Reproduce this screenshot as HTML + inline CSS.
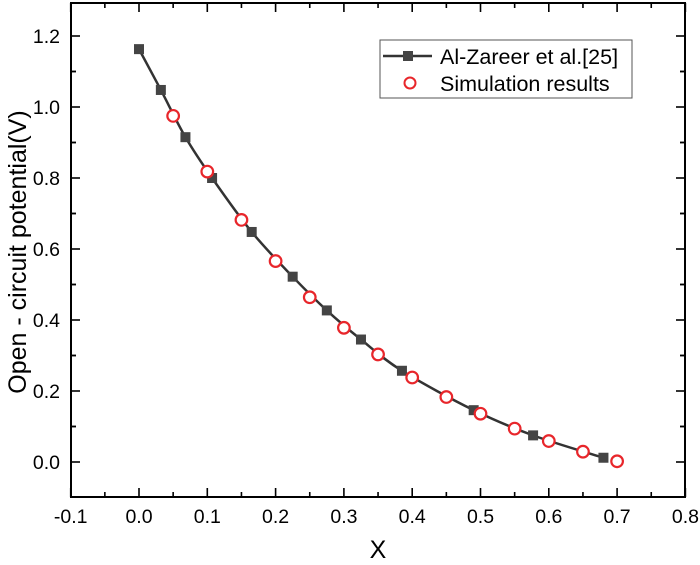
<!DOCTYPE html>
<html><head><meta charset="utf-8"><style>
body{margin:0;background:#fff}
svg{display:block;font-family:"Liberation Sans",Arial,sans-serif}
</style></head><body>
<svg id="c" width="700" height="565"></svg>
<script>
const refX=[0,0.032,0.068,0.107,0.165,0.225,0.275,0.325,0.385,0.49,0.577,0.68];
const refY=[1.163,1.048,0.915,0.800,0.648,0.522,0.427,0.345,0.257,0.146,0.075,0.012];
const simX=[0.05,0.1,0.15,0.2,0.25,0.3,0.35,0.4,0.45,0.5,0.55,0.6,0.65,0.7];
const simY=[0.975,0.818,0.682,0.566,0.464,0.378,0.303,0.238,0.183,0.136,0.094,0.059,0.029,0.002];
const xTicks=["-0.1","0.0","0.1","0.2","0.3","0.4","0.5","0.6","0.7","0.8"];
const yTicks=["0.0","0.2","0.4","0.6","0.8","1.0","1.2"];
const L=71,R=685,T=3,B=497;
const sx=v=>139+v*683;
const sy=v=>462-v*355;
const svg=document.getElementById('c');
const NS='http://www.w3.org/2000/svg';
function mk(t,a,p){const e=document.createElementNS(NS,t);for(const k in a)e.setAttribute(k,a[k]);(p||svg).appendChild(e);return e;}
let e=mk('rect',{x:L,y:T,width:R-L,height:B-T,fill:'none',stroke:'#000','stroke-width':2});

for(let i=0;i<xTicks.length;i++){const v=parseFloat(xTicks[i]);const x=sx(v);
 mk('line',{x1:x,x2:x,y1:B,y2:B-9,stroke:'#000','stroke-width':1.6});
 mk('line',{x1:x,x2:x,y1:T,y2:T+9,stroke:'#000','stroke-width':1.6});
 if(i<xTicks.length-1){const xm=sx(v+0.05);mk('line',{x1:xm,x2:xm,y1:B,y2:B-5,stroke:'#000','stroke-width':1.6});mk('line',{x1:xm,x2:xm,y1:T,y2:T+5,stroke:'#000','stroke-width':1.6});}
 const t=mk('text',{x:x,y:B+26,'text-anchor':'middle','font-size':19.5});t.textContent=xTicks[i];
 }
for(let i=0;i<yTicks.length;i++){const v=parseFloat(yTicks[i]);const y=sy(v);
 mk('line',{x1:L,x2:L+9,y1:y,y2:y,stroke:'#000','stroke-width':1.6});
 mk('line',{x1:R,x2:R-9,y1:y,y2:y,stroke:'#000','stroke-width':1.6});
 [v-0.1,v+0.1].forEach(m=>{const ym=sy(m);if(ym>T&&ym<B){mk('line',{x1:L,x2:L+5,y1:ym,y2:ym,stroke:'#000','stroke-width':1.6});mk('line',{x1:R,x2:R-5,y1:ym,y2:ym,stroke:'#000','stroke-width':1.6});}});
 const t=mk('text',{x:L-11,y:y+7,'text-anchor':'end','font-size':19.5});t.textContent=yTicks[i];
 }
let t=mk('text',{x:378,y:558,'text-anchor':'middle','font-size':25});t.textContent='X';

t=mk('text',{x:0,y:0,'text-anchor':'middle','font-size':25,transform:'translate(26,252) rotate(-90)'});t.textContent='Open - circuit potential(V)';

const P=refX.map((x,i)=>[sx(x),sy(refY[i])]);
let d='M'+P[0][0]+','+P[0][1];
for(let i=0;i<P.length-1;i++){const p0=P[Math.max(i-1,0)],p1=P[i],p2=P[i+1],p3=P[Math.min(i+2,P.length-1)];
 d+=' C'+(p1[0]+(p2[0]-p0[0])/6)+','+(p1[1]+(p2[1]-p0[1])/6)+' '+(p2[0]-(p3[0]-p1[0])/6)+','+(p2[1]-(p3[1]-p1[1])/6)+' '+p2[0]+','+p2[1];}
e=mk('path',{d:d,fill:'none',stroke:'#333','stroke-width':2.5});

P.forEach(p=>{const r=mk('rect',{x:p[0]-5,y:p[1]-5,width:10,height:10,fill:'#444'});
 });
simX.forEach((x,i)=>{const c=mk('circle',{cx:sx(x),cy:sy(simY[i]),r:5.8,fill:'#fff',stroke:'#e8262b','stroke-width':2.2});
 });
const g=mk('g',{});
mk('rect',{x:380,y:40,width:252,height:58,fill:'#fff',stroke:'#555','stroke-width':1},g);
mk('line',{x1:383,x2:432,y1:56,y2:56,stroke:'#333','stroke-width':2.5},g);
mk('rect',{x:403,y:51,width:10,height:10,fill:'#444'},g);
t=mk('text',{x:440,y:64,'font-size':21.5},g);t.textContent='Al-Zareer et al.[25]';

mk('circle',{cx:410,cy:83,r:5.5,fill:'#fff',stroke:'#e8262b','stroke-width':2},g);
t=mk('text',{x:440,y:91,'font-size':21.5},g);t.textContent='Simulation results';

</script>
</body></html>
